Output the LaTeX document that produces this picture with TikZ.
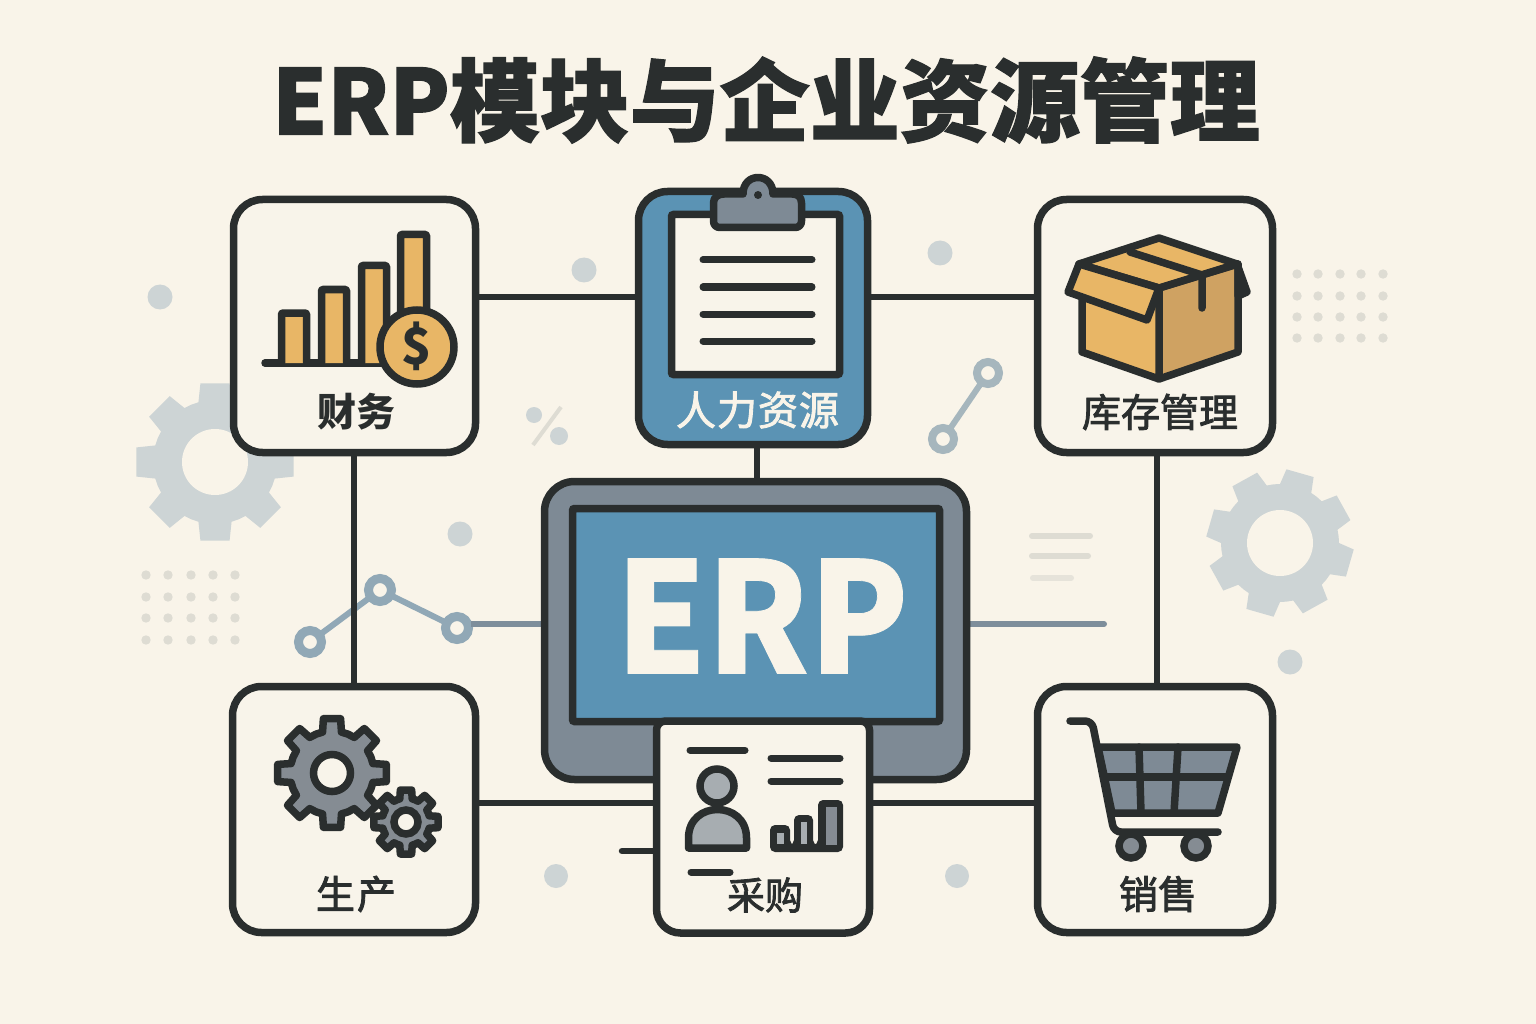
\documentclass[tikz,border=0pt]{standalone}
\usepackage{fontspec}
\setmainfont{Noto Sans CJK SC}
\newfontfamily\medcjk{Noto Sans CJK SC}[FakeBold=2.2]
\newfontfamily\titlecjk{Noto Sans CJK SC}[BoldFeatures={FakeBold=1.4}]
\newfontfamily\heavyerp{Noto Sans CJK SC}[BoldFeatures={FakeBold=0.5}]
\pgfdeclarelayer{deco}
\pgfsetlayers{deco,main}
\definecolor{bgc}{HTML}{F9F4E9}
\definecolor{boxc}{HTML}{F8F4EA}
\definecolor{ink}{HTML}{2A2E2E}
\definecolor{blu}{HTML}{5B93B4}
\definecolor{slate}{HTML}{7E8A95}
\definecolor{gearc}{HTML}{858C93}
\definecolor{org}{HTML}{E8B666}
\definecolor{orgd}{HTML}{CFA262}
\definecolor{pale}{HTML}{CDD4D5}
\definecolor{dotc}{HTML}{DEDCD3}
\definecolor{chain}{HTML}{91A8B6}
\definecolor{chainb}{HTML}{A6B6BD}
\definecolor{linc}{HTML}{7E8E9B}
\definecolor{persc}{HTML}{A7ADB1}
\newcommand{\gearshape}[9]{%
  \path[#1] ({#2+#5*cos(#7-#9)},{#3+#5*sin(#7-#9)})
  foreach \k in {1,...,#6}{
    -- ({#2+#5*cos(#7+(\k-1)*360/#6-#9)},{#3+#5*sin(#7+(\k-1)*360/#6-#9)})
    -- ({#2+#4*cos(#7+(\k-1)*360/#6-#8)},{#3+#4*sin(#7+(\k-1)*360/#6-#8)})
    -- ({#2+#4*cos(#7+(\k-1)*360/#6+#8)},{#3+#4*sin(#7+(\k-1)*360/#6+#8)})
    -- ({#2+#5*cos(#7+(\k-1)*360/#6+#9)},{#3+#5*sin(#7+(\k-1)*360/#6+#9)})
    -- ({#2+#5*cos(#7+(\k-.5)*360/#6)},{#3+#5*sin(#7+(\k-.5)*360/#6)})
  } -- cycle;}
\tikzset{
  modbox/.style={draw=ink,line width=7.5pt,fill=boxc,rounded corners=29pt,inner sep=0pt,outer sep=0pt},
  link/.style={draw=ink,line width=6.5pt},
  softlink/.style={draw=linc,line width=6pt},
  ring/.style={circle,draw=chain,line width=9pt,fill=bgc,minimum size=23pt,inner sep=0pt,outer sep=0pt},
  ringb/.style={ring,draw=chainb,line width=8pt,minimum size=22pt},
  lab/.style={text=ink,font=\fontsize{39}{39}\selectfont\bfseries,inner sep=0pt},
  labm/.style={text=ink,font=\fontsize{39}{39}\selectfont\medcjk,inner sep=0pt},
  ic/.style={draw=ink,line width=7.5pt,line join=round,line cap=round},
  bar/.style={ic,fill=org,rounded corners=1pt},
  txtln/.style={draw=ink,line width=7pt,line cap=round},
  softdot/.style={fill=pale},
  griddot/.style={fill=dotc},
  paleln/.style={draw=dotc,line width=6pt,line cap=round},
  hole/.style={circle,draw=ink,line width=7.5pt,fill=boxc,inner sep=0pt},
}
\begin{document}
\begin{tikzpicture}[x=1pt,y=-1pt]
\useasboundingbox (0,0) rectangle (1536,1024);
% central screen
\node[modbox,fill=slate,minimum width=422pt,minimum height=298pt,rounded corners=30pt] (scr) at (755.5,630.5) {};
\node[draw=ink,line width=7.5pt,fill=blu,minimum width=367pt,minimum height=213pt,rounded corners=2pt,inner sep=0pt] (panel) at (756,615) {};
\node[text=bgc,font=\fontsize{154}{154}\selectfont\heavyerp\bfseries,inner sep=0pt] (erp) at (762,616) {\scalebox{.94}[1]{ERP}};
% finance
\node[modbox,minimum width=242pt,minimum height=253pt] (fin) at (354.5,326) {};
\draw[ic] (265,363) -- (385,363);
\draw[bar] (281.5,363) -- (281.5,313) -- (306.5,313) -- (306.5,363);
\draw[bar] (321.5,363) -- (321.5,289.5) -- (346.5,289.5) -- (346.5,363);
\draw[bar] (361.5,363) -- (361.5,265.5) -- (386.5,265.5) -- (386.5,363);
\draw[bar] (400.5,363) -- (400.5,234.5) -- (426.5,234.5) -- (426.5,363);
\node[circle,draw=ink,line width=7.5pt,fill=org,minimum size=74pt,inner sep=0pt] (coin) at (417,347) {};
\node[text=ink,font=\fontsize{50}{50}\selectfont\bfseries,inner sep=0pt] (dollar) at (417,346) {\$};
\node[lab] (finl) at (356,412) {财务};
% HR clipboard
\node[modbox,fill=blu,minimum width=229pt,minimum height=253pt] (hr) at (753,318) {};
\node[draw=ink,line width=7.5pt,fill=boxc,minimum width=168pt,minimum height=160pt,rounded corners=2pt,inner sep=0pt] (paper) at (755.5,294.5) {};
\foreach \y in {260,287,314,341} \draw[txtln] (703,\y) -- (812,\y);
\draw[ic,fill=slate] (724,194) -- (743,194) .. controls (743,172) and (773,172) .. (773,194) -- (792,194)
  .. controls (798,194) and (801.5,197) .. (801.5,203) -- (801.5,221) .. controls (801.5,225) and (799,227.5) .. (795,227.5)
  -- (720,227.5) .. controls (716,227.5) and (713.5,225) .. (713.5,221) -- (713.5,203) .. controls (713.5,197) and (718,194) .. (724,194) -- cycle;
\fill[ink] (758,195) circle (4);
\node[labm,text=bgc,font=\fontsize{40}{40}\selectfont\medcjk] (hrl) at (757.5,410) {人\hspace{1pt}力\hspace{1pt}资\hspace{1pt}源};
% inventory box
\node[modbox,minimum width=235pt,minimum height=253pt] (inv) at (1155,326) {};
\filldraw[ic,fill=orgd] (1159,288) -- (1238,264) -- (1238,352) -- (1159,379) -- cycle;
\filldraw[ic,fill=org] (1159,288) -- (1082,264) -- (1082,352) -- (1159,379) -- cycle;
\filldraw[ic,fill=org] (1159,238) -- (1237,264) -- (1159,288) -- (1079,264) -- cycle;
\filldraw[ic,fill=org] (1079,264) -- (1068,292) -- (1147,320) -- (1159,288) -- cycle;
\filldraw[ic,fill=org] (1237,264) -- (1247,292) -- (1238,296) -- (1238,264) -- cycle;
\draw[ic] (1130,252) -- (1202,275) -- (1202,308);
\node[labm] (invl) at (1160,412) {库存管理};
% production
\node[modbox,minimum width=243pt,minimum height=246pt] (pro) at (354,809.5) {};
\gearshape{ic,fill=gearc}{332}{773}{55}{42}{8}{0}{9}{13}
\node[hole,minimum size=37pt] (ghole) at (332,773) {};
\gearshape{ic,fill=gearc}{406}{822}{32.5}{24}{8}{0}{10}{15}
\node[hole,minimum size=24pt] (ghole2) at (406,822) {};
\node[labm] (prol) at (356,894) {生\hspace{2pt}产};
% purchase
\node[minimum width=213pt,minimum height=212pt,inner sep=0pt,outer sep=0pt] (buy) at (763,827) {};
\draw[draw=ink,line width=7.5pt,fill=boxc,rounded corners=9pt] (buy.west) -- (buy.north west) -- (buy.north) -- (buy.north east) -- (buy.east) [rounded corners=24pt] -- (buy.south east) -- (buy.south) -- (buy.south west) -- (buy.west) -- cycle;
\draw[txtln] (690,750) -- (745,750);
\draw[txtln] (771,758) -- (840,758);
\draw[txtln] (771,781) -- (840,781);
\draw[ic,fill=persc] (688.5,848) -- (688.5,838) .. controls (688.5,800) and (746.5,800) .. (746.5,838) -- (746.5,848) -- cycle;
\node[circle,draw=ink,line width=7.5pt,fill=persc,minimum size=34pt,inner sep=0pt] (phead) at (717,786) {};
\fill[ink,rounded corners=5pt] (770,852) -- (770,825) -- (790,825) -- (790,845) -- (794,845) -- (794,815) -- (813,815) -- (813,845) -- (818,845) -- (818,800) -- (843,800) -- (843,852) -- cycle;
\fill[persc] (777,833) rectangle (784,844);
\fill[persc] (801,822) rectangle (807,844);
\fill[gearc] (826,807) rectangle (837,845);
\draw[txtln] (691,872) -- (730,872);
\node[labm,font=\fontsize{38}{38}\selectfont\medcjk] (buyl) at (765,895) {采购};
% sales
\node[modbox,minimum width=235pt,minimum height=246pt] (sal) at (1155,809.5) {};
\draw[ic,fill=slate] (1098,747) -- (1237,747) -- (1218,813) -- (1112,813) -- cycle;
\draw[ic] (1104,777) -- (1228,777);
\draw[ic] (1139,747) -- (1141,813);
\draw[ic] (1178,747) -- (1174,813);
\draw[ic,rounded corners=7pt] (1070,721) -- (1092,721) -- (1114,832) -- (1218,832);
\node[circle,draw=ink,line width=7.5pt,fill=gearc,minimum size=24pt,inner sep=0pt] (w1) at (1131,846) {};
\node[circle,draw=ink,line width=7.5pt,fill=gearc,minimum size=24pt,inner sep=0pt] (w2) at (1196,846) {};
\node[labm] (sall) at (1158,894) {销售};
% title
\node[text=ink,font=\fontsize{90}{90}\selectfont\titlecjk\bfseries,inner sep=0pt] (title) at (766,100) {\scalebox{.975}[1]{ERP}模块与企业资源管理};
% everything behind the boxes
\begin{pgfonlayer}{deco}
\fill[bgc] (0,0) rectangle (1536,1024);
\gearshape{fill=pale}{215}{462}{80}{62}{8}{0}{10.5}{15.5}
\fill[bgc] (215,462) circle (33);
\gearshape{fill=pale}{1280}{543}{74}{59}{8}{16}{11}{16}
\fill[bgc] (1280,543) circle (33);
\foreach \p in {(160,297),(584,270),(940,253),(460,534),(1290,662)} \fill[softdot] \p circle (12.5);
\foreach \p in {(556,876),(957,876)} \fill[softdot] \p circle (12);
\foreach \x in {146,168,191,213,235}\foreach \y in {575,597,618,640} \fill[griddot] (\x,\y) circle (4.7);
\foreach \x in {1297,1318,1340,1361,1383}\foreach \y in {274,296,317,338} \fill[griddot] (\x,\y) circle (4.7);
\fill[softdot] (534,415) circle (8);
\fill[softdot] (559,436) circle (9);
\draw[dotc,line width=4pt] (561,407) -- (533,445);
\draw[paleln] (1032,536) -- (1090,536);
\draw[paleln] (1032,556) -- (1088,556);
\draw[paleln,draw=dotc!70!bgc] (1033,578) -- (1071,578);
% small connector motif
\node[ringb] (m1) at (988,373) {};
\node[ringb] (m2) at (943,439) {};
\draw[draw=chainb,line width=6pt] (m1) -- (m2);
% connector anchors
\coordinate (ytop) at (0,297);
\coordinate (ybot) at (0,803);
\coordinate (xleft) at (354,0);
\coordinate (xright) at (1157,0);
\coordinate (xmid) at (757,0);
\coordinate (ysoft) at (0,624);
\coordinate (softend) at (1104,624);
\coordinate (stub) at (622,851);
% node chain
\node[ring] (r1) at (310,642) {};
\node[ring] (r2) at (380,590) {};
\node[ring] (r3) at (457,628) {};
\draw[draw=chain,line width=6pt] (r1) -- (r2) -- (r3);
\draw[softlink] (r3 |- ysoft) ++(14,0) -- (scr.west |- ysoft);
% connectors
\draw[link] (fin.east |- ytop) -- (hr.west |- ytop);
\draw[link] (hr.east |- ytop) -- (inv.west |- ytop);
\draw[link] (fin.south -| xleft) -- (pro.north -| xleft);
\draw[link] (inv.south -| xright) -- (sal.north -| xright);
\draw[link] (hr.south -| xmid) -- (scr.north -| xmid);
\draw[link] (pro.east |- ybot) -- (buy.west |- ybot);
\draw[link] (buy.east |- ybot) -- (sal.west |- ybot);
\draw[softlink,line cap=round] (scr.east |- ysoft) -- (softend);
\draw[link,line cap=round] (stub) -- (buy.west |- stub);
\end{pgfonlayer}
\end{tikzpicture}
\end{document}
